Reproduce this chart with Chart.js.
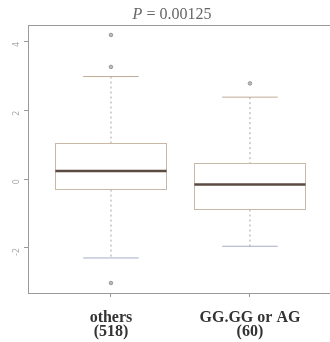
<!DOCTYPE html>
<html>
<head>
<meta charset="utf-8">
<script src="https://cdn.jsdelivr.net/npm/chart.js@4.4.1/dist/chart.umd.min.js"></script>
<style>
  html, body { margin: 0; padding: 0; background: #fff; overflow: hidden; }
  #wrap { width: 330px; height: 342px; }
  canvas { display: block; }
</style>
</head>
<body>
<div id="wrap"><canvas id="c"></canvas></div>
<script>
// boxplot stats
const categories = ['others', 'GG.GG or AG'];
const counts = ['(518)', '(60)'];
const whiskerLow = [-2.29, -1.95];
const q1 = [-0.30, -0.88];
const medians = [0.24, -0.15];
const q3 = [1.05, 0.46];
const whiskerHigh = [2.99, 2.39];
const outliersOthers = [4.2, 3.27, -3.02];
const outliersGG = [2.79];
const yTicks = [-2, 0, 2, 4];
const pValue = '0.00125';

const serif = '"Liberation Serif", "DejaVu Serif", serif';

const outlierPoints = outliersOthers.map(v => ({ x: 1, y: v }))
    .concat(outliersGG.map(v => ({ x: 2, y: v })));

// draws boxes, medians, whiskers and caps from the arrays above
const boxPlugin = {
    id: 'boxes',
    beforeDatasetsDraw(chart) {
        const ctx = chart.ctx;
        const xs = chart.scales.x, ys = chart.scales.y;
        ctx.save();
        categories.forEach((c, i) => {
            const xc = xs.getPixelForValue(i + 1);
            const hw = xs.getPixelForValue(i + 1.4) - xc;
            const cw = xs.getPixelForValue(i + 1.2) - xc;
            const yLo = ys.getPixelForValue(whiskerLow[i]);
            const yQ1 = ys.getPixelForValue(q1[i]);
            const yMed = ys.getPixelForValue(medians[i]);
            const yQ3 = ys.getPixelForValue(q3[i]);
            const yHi = ys.getPixelForValue(whiskerHigh[i]);

            // whiskers, dashed
            ctx.strokeStyle = '#a8a0a0';
            ctx.lineWidth = 1;
            ctx.setLineDash([2, 3]);
            ctx.beginPath();
            ctx.moveTo(xc, yHi); ctx.lineTo(xc, yQ3);
            ctx.moveTo(xc, yQ1); ctx.lineTo(xc, yLo);
            ctx.stroke();
            ctx.setLineDash([]);

            // caps
            ctx.strokeStyle = '#c0ab98';
            ctx.beginPath();
            ctx.moveTo(xc - cw, yHi); ctx.lineTo(xc + cw, yHi);
            ctx.stroke();
            ctx.strokeStyle = '#a8aec8';
            ctx.beginPath();
            ctx.moveTo(xc - cw, yLo); ctx.lineTo(xc + cw, yLo);
            ctx.stroke();

            // box
            ctx.strokeStyle = '#c8b8a8';
            ctx.strokeRect(Math.round(xc - hw) + 0.5, Math.round(yQ3) + 0.5,
                Math.round(2 * hw), Math.round(yQ1 - yQ3));

            // median
            ctx.strokeStyle = '#5a4a40';
            ctx.lineWidth = 2.5;
            ctx.beginPath();
            ctx.moveTo(xc - hw, yMed); ctx.lineTo(xc + hw, yMed);
            ctx.stroke();
        });
        ctx.restore();
    },
    afterDraw(chart) {
        const ctx = chart.ctx;
        const a = chart.chartArea;
        ctx.save();
        // frame top line (right side runs off the picture)
        ctx.strokeStyle = '#9a9a9a';
        ctx.lineWidth = 1;
        ctx.beginPath();
        ctx.moveTo(a.left, Math.round(a.top) + 0.5);
        ctx.lineTo(chart.width, Math.round(a.top) + 0.5);
        ctx.stroke();

        // title: italic P, then the value
        const cx = 172, base = 19;
        ctx.fillStyle = '#666';
        ctx.textBaseline = 'alphabetic';
        ctx.font = 'italic 16px ' + serif;
        const pTxt = 'P';
        const rest = ' = ' + pValue;
        const w1 = ctx.measureText(pTxt).width;
        ctx.font = '16px ' + serif;
        const w2 = ctx.measureText(rest).width;
        const x0 = cx - (w1 + w2) / 2;
        ctx.font = 'italic 16px ' + serif;
        ctx.fillText(pTxt, x0, base);
        ctx.font = '16px ' + serif;
        ctx.fillText(rest, x0 + w1, base);
        ctx.restore();
    }
};

new Chart(document.getElementById('c'), {
    type: 'scatter',
    data: {
        datasets: [{
            data: outlierPoints,
            pointRadius: 1.8,
            pointBorderWidth: 1,
            pointBorderColor: '#999',
            pointBackgroundColor: '#bbb',
            clip: false
        }]
    },
    options: {
        responsive: true,
        maintainAspectRatio: false,
        animation: false,
        layout: { autoPadding: false, padding: { top: 25, right: 0, left: 0, bottom: 0 } },
        plugins: { legend: { display: false }, tooltip: { enabled: false } },
        scales: {
            x: {
                type: 'linear',
                min: 0.403,
                max: 2.576,
                afterBuildTicks: s => { s.ticks = [1, 2].map(v => ({ value: v })); },
                afterFit: s => { s.height = 49; s.paddingLeft = 0; s.paddingRight = 0; },
                grid: { drawOnChartArea: false, drawTicks: true, tickLength: 4, color: '#9a9a9a' },
                border: { display: true, color: '#9a9a9a' },
                ticks: {
                    padding: 14,
                    maxRotation: 0,
                    color: '#333',
                    font: { family: serif, size: 16, weight: 'bold', lineHeight: 0.85 },
                    callback: v => [categories[v - 1], counts[v - 1]]
                }
            },
            y: {
                min: -3.31,
                max: 4.49,
                afterBuildTicks: s => { s.ticks = yTicks.map(v => ({ value: v })); },
                afterFit: s => { s.width = 28; s.paddingTop = 0; s.paddingBottom = 0; },
                grid: { drawOnChartArea: false, drawTicks: true, tickLength: 4, color: '#9a9a9a' },
                border: { display: true, color: '#9a9a9a' },
                ticks: {
                    padding: 7,
                    minRotation: 90,
                    maxRotation: 90,
                    color: '#aaa',
                    font: { family: 'DejaVu Sans', size: 8 }
                }
            }
        }
    },
    plugins: [boxPlugin]
});
</script>
</body>
</html>
